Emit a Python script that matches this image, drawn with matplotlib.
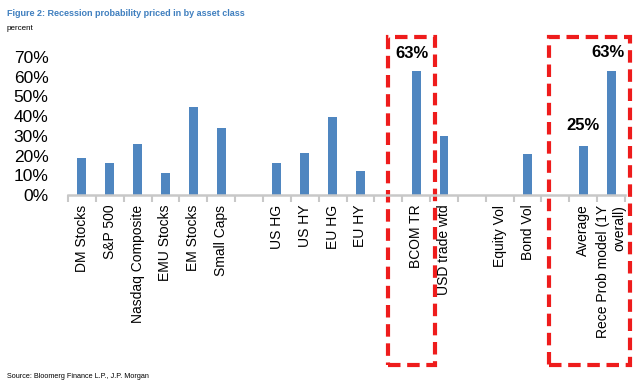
import matplotlib.pyplot as plt
from matplotlib.patches import Rectangle

plt.rcParams['font.family'] = ['Liberation Sans', 'DejaVu Sans']

categories = ['DM Stocks', 'S&P 500', 'Nasdaq Composite', 'EMU Stocks', 'EM Stocks',
              'Small Caps', '', 'US HG', 'US HY', 'EU HG', 'EU HY', '', 'BCOM TR',
              'USD trade wtd', '', 'Equity Vol', 'Bond Vol', '', 'Average',
              'Rece Prob model (1Y\noverall)']
values = [19, 16.3, 25.8, 11.2, 44.6, 34, 0, 16.2, 21.3, 39.5, 12.2, 0, 63,
          30, 0, 0, 20.8, 0, 25, 63]
yticks = [0, 10, 20, 30, 40, 50, 60, 70]

bar_color = '#4f86c0'

fig = plt.figure(figsize=(6.4, 3.83), dpi=100)
ax = fig.add_axes([68 / 640, 1 - 195 / 383, (625 - 68) / 640, (195 - 57) / 383])
x = list(range(len(categories)))
ax.bar(x, values, width=0.32, color=bar_color)
ax.set_xlim(-0.5, len(categories) - 0.5)
ax.set_ylim(0, 70)

# axes styling
for s in ['top', 'right', 'left']:
    ax.spines[s].set_visible(False)
ax.spines['bottom'].set_color('#c8c8c8')
ax.spines['bottom'].set_linewidth(1.8)
ax.set_yticks(yticks)
ax.set_yticklabels([f'{v}%' for v in yticks], fontsize=12.5)
ax.tick_params(axis='y', length=0, pad=14)
ax.set_xticks(x)
ax.set_xticklabels(categories, rotation=90, fontsize=10, va='top', ha='center',
                   multialignment='right')
ax.tick_params(axis='x', which='major', length=0, pad=7)
ax.set_xticks([i - 0.5 for i in range(len(categories) + 1)], minor=True)
ax.tick_params(axis='x', which='minor', length=5, width=1.5, color='#c8c8c8')

# red dashed highlight boxes
box_kw = dict(fill=False, edgecolor='#ee1c1c', linewidth=3, linestyle=(0, (3, 1.6)),
              clip_on=False)
ax.add_patch(Rectangle((11.0, -86), 1.68, 166, **box_kw))
ax.add_patch(Rectangle((16.77, -86), 2.91, 166, **box_kw))

ax.text(11.85, 72, '63%', fontsize=12, fontweight='bold', ha='center', va='center')
ax.text(18.9, 72.5, '63%', fontsize=12, fontweight='bold', ha='center', va='center')
ax.text(18.0, 35.5, '25%', fontsize=12, fontweight='bold', ha='center', va='center')

fig.text(7 / 640, 1 - 13 / 383, 'Figure 2: Recession probability priced in by asset class',
         fontsize=6.5, fontweight='bold', color='#3f7fbf', va='center')
fig.text(7 / 640, 1 - 28 / 383, 'percent', fontsize=5.8, va='center')
fig.text(7 / 640, 1 - 377 / 383, 'Source: Bloomerg Finance L.P., J.P. Morgan',
         fontsize=5.2, va='center')

fig.savefig('out.png', dpi=100)
